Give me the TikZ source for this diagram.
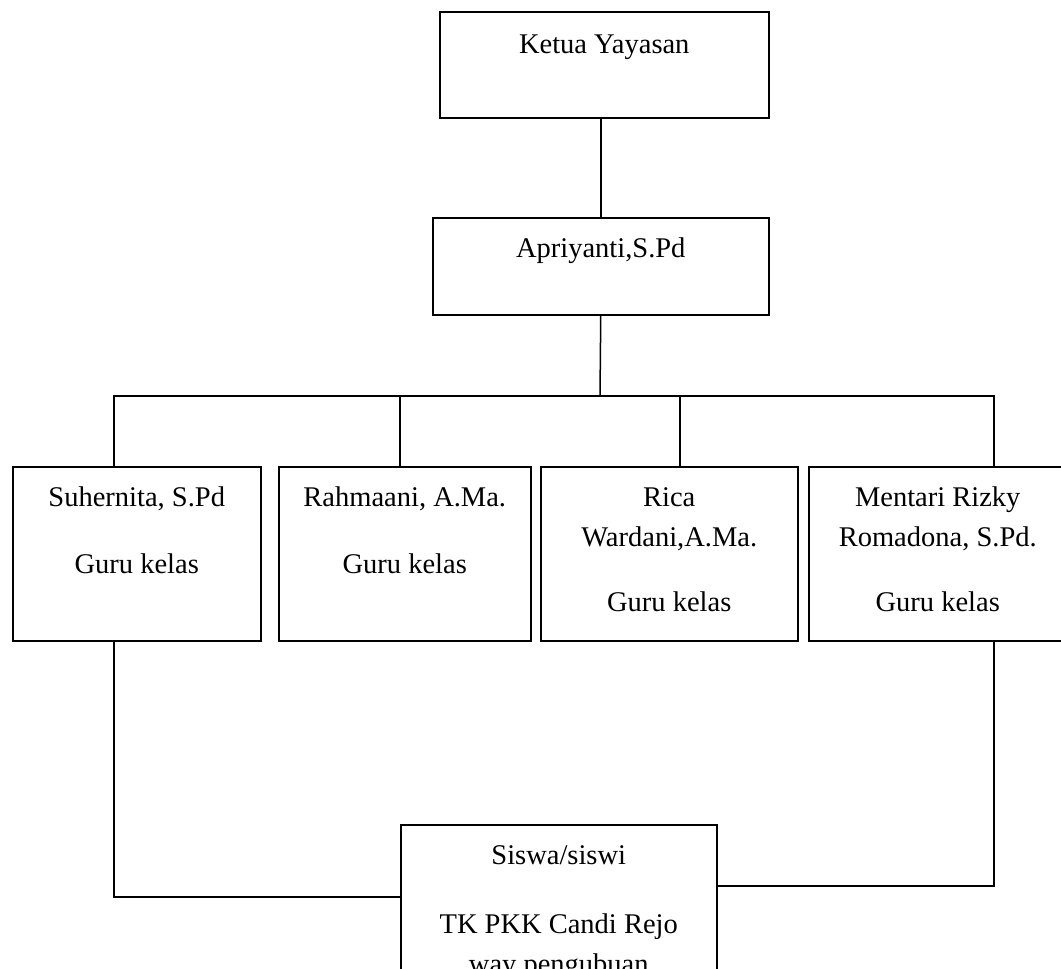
\documentclass[tikz,border=0pt]{standalone}
\usepackage{fontspec}
\setmainfont{Liberation Serif}
\usetikzlibrary{calc}
\newcommand\orgfont{\fontsize{28.5}{40}\selectfont}

\begin{document}
\begin{tikzpicture}[
        x=1pt, y=-1pt,
        orgbox/.style={
                draw,
                line width=1.5pt,
                anchor=north west,
                inner sep=0pt
            },
        boxtext/.style={
                font=\orgfont,
                align=center,
                anchor=north,
                inner sep=0pt
            },
        link/.style={line width=1.5pt}
    ]

    \useasboundingbox (0,0) rectangle (1061,969);
    \clip (0,0) rectangle (1061,969);

    % ---- Sizes ----
    \def\topgap{12}   % box top to first strut top
    \def\rowH{174}

    % ---- Pimpinan ----
    \node[orgbox, minimum width=329pt, minimum height=106pt] (ketua) at (439,11) {};
    \node[boxtext] (ketuatxt) at ($(ketua.north)+(0,14)$) {\strut Ketua Yayasan};

    \node[orgbox, minimum width=336pt, minimum height=97pt] (apri) at (432,217) {};
    \node[boxtext] (apritxt) at ($(apri.north)+(0,\topgap)$) {\strut Apriyanti,S.Pd};

    % ---- Guru kelas ----
    \node[orgbox, minimum width=248pt, minimum height=\rowH pt] (guruA) at (12,466) {};
    \node[boxtext] (guruAtxt) at ($(guruA.north)+(0,\topgap)$) {\strut Suhernita, S.Pd\\[27pt]Guru kelas};

    \node[orgbox, minimum width=252pt, minimum height=\rowH pt] (guruB) at (278,466) {};
    \node[boxtext] (guruBtxt) at ($(guruB.north)+(0,\topgap)$) {\strut Rahmaani, A.Ma.\\[27pt]Guru kelas};

    \node[orgbox, minimum width=257pt, minimum height=\rowH pt] (guruC) at (540,466) {};
    \node[boxtext] (guruCtxt) at ($(guruC.north)+(0,\topgap)$) {\strut Rica\\Wardani,A.Ma.\\[25pt]Guru kelas};

    \node[orgbox, minimum width=258pt, minimum height=\rowH pt] (guruD) at (808,466) {};
    \node[boxtext] (guruDtxt) at ($(guruD.north)+(0,\topgap)$) {\strut Mentari Rizky\\Romadona, S.Pd.\\[25pt]Guru kelas};

    % ---- Siswa ----
    \node[orgbox, minimum width=316pt, minimum height=190pt] (siswa) at (400,824) {};
    \node[boxtext] (siswatxt) at ($(siswa.north)+(0,\topgap)$) {\strut Siswa/siswi\\[29pt]TK PKK Candi Rejo\\way pengubuan};

    % ---- Connectors ----
    \coordinate (bus) at (600,396);
    \coordinate (dropA) at (114,466);
    \coordinate (dropB) at (400,466);
    \coordinate (dropC) at (680,466);
    \coordinate (dropD) at (994,466);
    \coordinate (joinA) at (400,897);
    \coordinate (joinD) at (716,886);

    \draw[link] (apri.north) -- (apri.north |- ketua.south);
    \draw[link] (apri.south) -- (bus);
    \draw[link] (dropA) |- (bus) -| (dropD);
    \draw[link] (dropB) -- (dropB |- bus);
    \draw[link] (dropC) -- (dropC |- bus);

    \draw[link] (dropA |- guruA.south) |- (joinA);
    \draw[link] (dropD |- guruD.south) |- (joinD);
\end{tikzpicture}
\end{document}
